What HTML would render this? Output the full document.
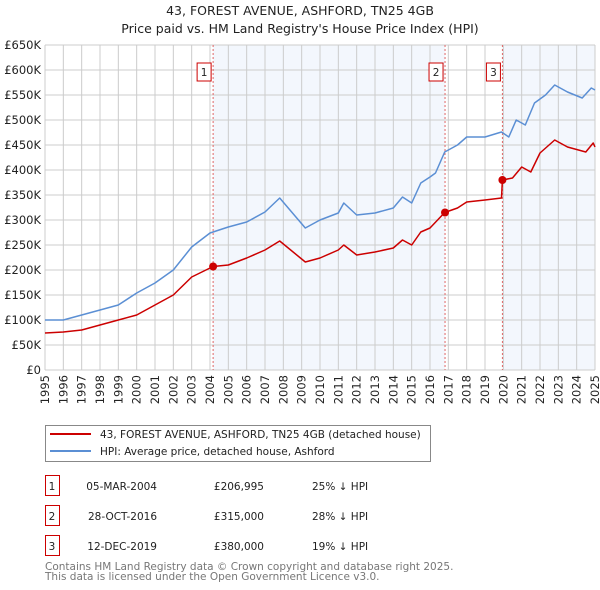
<!DOCTYPE html>
<html><head><meta charset="utf-8"><style>
body{margin:0;background:#fff;width:600px;height:590px;overflow:hidden}
svg{display:block;font-family:"DejaVu Sans","Liberation Sans",sans-serif}
</style></head><body>
<svg id="c" width="600" height="590" viewBox="0 0 600 590">
<text x="300" y="15" text-anchor="middle" font-size="12.5" fill="#222">43, FOREST AVENUE, ASHFORD, TN25 4GB</text>
<text x="300" y="33" text-anchor="middle" font-size="12.5" fill="#222">Price paid vs. HM Land Registry's House Price Index (HPI)</text>
<g id="plot"></g>
<g>
<rect x="45.5" y="425.5" width="385" height="36" fill="#fff" stroke="#888"/>
<line x1="50" y1="434" x2="91" y2="434" stroke="#cc0000" stroke-width="2"/>
<text x="100" y="438" font-size="10.5" fill="#222">43, FOREST AVENUE, ASHFORD, TN25 4GB (detached house)</text>
<line x1="50" y1="451" x2="91" y2="451" stroke="#5b8fd4" stroke-width="2"/>
<text x="100" y="455" font-size="10.5" fill="#222">HPI: Average price, detached house, Ashford</text>
</g>
<g id="table" font-size="10.5" fill="#222"></g>
<text x="45" y="570" font-size="10.5" fill="#777">Contains HM Land Registry data © Crown copyright and database right 2025.</text>
<text x="45" y="580" font-size="10.5" fill="#777">This data is licensed under the Open Government Licence v3.0.</text>
</svg>
<script>
const yTicks=[0,50000,100000,150000,200000,250000,300000,350000,400000,450000,500000,550000,600000,650000];
const yTickLabels=["£0","£50K","£100K","£150K","£200K","£250K","£300K","£350K","£400K","£450K","£500K","£550K","£600K","£650K"];
const xYears=[1995,1996,1997,1998,1999,2000,2001,2002,2003,2004,2005,2006,2007,2008,2009,2010,2011,2012,2013,2014,2015,2016,2017,2018,2019,2020,2021,2022,2023,2024,2025];
const hpiT=[1995,1996,1997,1998,1999,2000,2001,2002,2003,2004,2005,2006,2007,2007.8,2009.2,2010,2011,2011.3,2012,2013,2014,2014.5,2015,2015.5,2016,2016.3,2016.8,2017.5,2018,2019,2019.9,2020.3,2020.7,2021.2,2021.7,2022.3,2022.8,2023.5,2024.3,2024.8,2025];
const hpiV=[100000,100000,110000,120000,130000,154000,174000,200000,246000,274000,286000,296000,316000,344000,284000,300000,314000,334000,310000,314000,324000,346000,334000,374000,386000,394000,436000,450000,466000,466000,476000,466000,500000,490000,534000,550000,570000,556000,544000,564000,560000];
const ppT=[1995,1996,1997,1998,1999,2000,2001,2002,2003,2004.17,2005,2006,2007,2007.8,2009.2,2010,2011,2011.3,2012,2013,2014,2014.5,2015,2015.5,2016,2016.8,2017.5,2018,2019,2019.9,2019.95,2020.5,2021,2021.5,2022,2022.8,2023.5,2024.5,2024.9,2025];
const ppV=[74000,76000,80000,90000,100000,110000,130000,150000,186000,206995,210000,224000,240000,258000,216000,224000,240000,250000,230000,236000,244000,260000,250000,276000,284000,315000,324000,336000,340000,344000,380000,384000,406000,396000,434000,460000,446000,436000,454000,446000];
const saleT=[2004.17,2016.82,2019.95];
const saleV=[206995,315000,380000];
const saleLabels=["1","2","3"];
const saleDates=["05-MAR-2004","28-OCT-2016","12-DEC-2019"];
const salePrices=["£206,995","£315,000","£380,000"];
const saleDiff=["25% ↓ HPI","28% ↓ HPI","19% ↓ HPI"];

const NS="http://www.w3.org/2000/svg";
const X0=45,X1=595,Y0=370,Y1=45;
const xs=t=>X0+(t-1995)/(2025-1995)*(X1-X0);
const ys=v=>Y0-v/650000*(Y0-Y1);
function mk(tag,at,parent){const e=document.createElementNS(NS,tag);for(const k in at)e.setAttribute(k,at[k]);parent.appendChild(e);return e;}
const g=document.getElementById('plot');
let sh=mk('rect',{x:xs(saleT[0]),y:Y1,width:xs(saleT[1])-xs(saleT[0]),height:Y0-Y1,fill:'#eef3fc',opacity:0.7},g);


sh=mk('rect',{x:xs(saleT[2]),y:Y1,width:X1-xs(saleT[2]),height:Y0-Y1,fill:'#eef3fc',opacity:0.7},g);


yTicks.forEach((v,i)=>{
 const l=mk('line',{x1:X0,x2:X1,y1:ys(v),y2:ys(v),stroke:'#ccc','stroke-width':1},g);
 
 
 const t=mk('text',{x:X0-4,y:ys(v)+4,'text-anchor':'end','font-size':11.5,fill:'#222'},g);
 
 
 t.textContent=yTickLabels[i];
});
xYears.forEach(yr=>{
 const l=mk('line',{x1:xs(yr),x2:xs(yr),y1:Y1,y2:Y0,stroke:'#ccc','stroke-width':1},g);
 
 
 const x=xs(yr)+4, y=375;
 const t=mk('text',{x:x,y:y,'text-anchor':'end','font-size':11.5,fill:'#222',transform:'rotate(-90 '+x+' '+y+')'},g);
 
 
 t.textContent=yr;
});
saleT.forEach((t,i)=>{
 const l=mk('line',{x1:xs(t),x2:xs(t),y1:Y1,y2:Y0,stroke:'#e06666','stroke-width':1,'stroke-dasharray':'2,2'},g);
 
 
 const r=mk('rect',{x:xs(t)-16,y:63,width:14,height:18,fill:'#fff',stroke:'#cc0000'},g);
 
 
 const tx=mk('text',{x:xs(t)-9,y:76,'text-anchor':'middle','font-size':10.5,fill:'#222'},g);
 
 
 tx.textContent=saleLabels[i];
});
function line(T,V,col,name){
 const d=T.map((t,i)=>(i?'L':'M')+xs(t).toFixed(1)+','+ys(V[i]).toFixed(1)).join('');
 const p=mk('path',{d:d,fill:'none',stroke:col,'stroke-width':1.5,'stroke-linejoin':'round'},g);
 
 
}
line(hpiT,hpiV,'#5b8fd4','hpi-line');
line(ppT,ppV,'#cc0000','price-paid-line');
saleT.forEach((t,i)=>{
 const c=mk('circle',{cx:xs(t),cy:ys(saleV[i]),r:4,fill:'#cc0000'},g);
 
 
});
const tb=document.getElementById('table');
saleT.forEach((t,i)=>{
 const y=476+i*30;
 const r=mk('rect',{x:45.5,y:y-0.5,width:14,height:20,fill:'#fff',stroke:'#cc0000'},tb);
 
 
 const vals=[[52,saleLabels[i],'middle'],[157,saleDates[i],'end'],[264,salePrices[i],'end'],[312,saleDiff[i],'start']];
 const names=['table-index','table-date','table-price','table-hpi-diff'];
 vals.forEach((v,j)=>{
  const e=mk('text',{x:v[0],y:y+14,'text-anchor':v[2]},tb);
  
  
  e.textContent=v[1];
 });
});
</script>
</body></html>
